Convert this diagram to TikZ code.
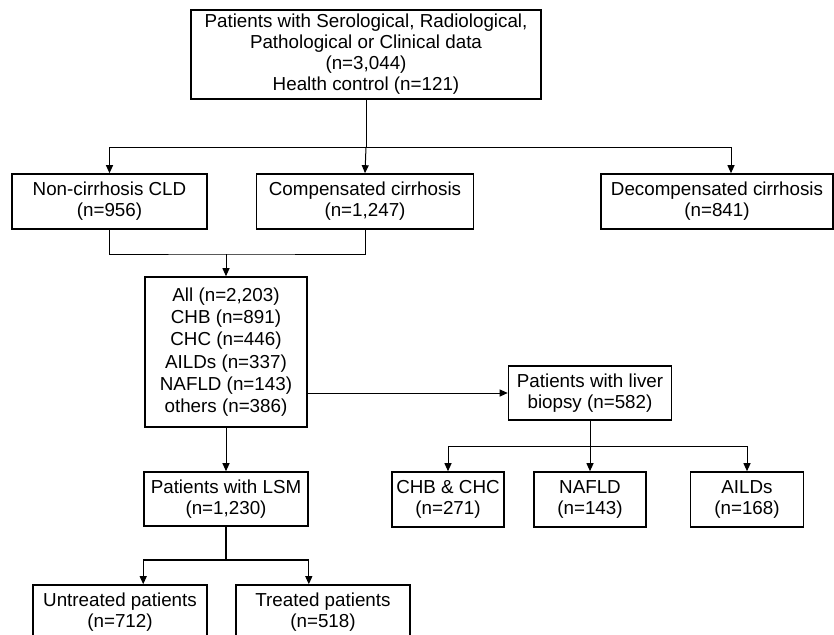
\documentclass[tikz,border=0pt]{standalone}
\usepackage{fontspec}
\setmainfont{Liberation Sans}
\usetikzlibrary{arrows.meta}

\begin{document}
\begin{tikzpicture}[x=1pt,y=-1pt,
    box/.style={draw, line width=1.6pt, align=center, inner sep=0pt,
      font=\fontsize{18.8}{21}\selectfont},
    link/.style={line width=1pt},
    arr/.style={link, -{Triangle[length=8pt,width=7pt]}}]
    % Frame of the page
    \useasboundingbox (0,0) rectangle (834,634);

    \node[box, minimum width=350, minimum height=89] (src) at (366,54.5) {\raisebox{-3pt}{\begin{tabular}{@{}c@{}}Patients with Serological, Radiological,\\Pathological or Clinical data\\(n=3,044)\\Health control (n=121)\end{tabular}}};
    \node[box, minimum width=195, minimum height=55] (ncld) at (109.5,201.5) {Non-cirrhosis CLD\\(n=956)};
    \node[box, minimum width=217, minimum height=55] (comp) at (365,201.5) {Compensated cirrhosis\\(n=1,247)};
    \node[box, minimum width=232, minimum height=55] (decomp) at (717,201.5) {Decompensated cirrhosis\\(n=841)};
    \node[box, minimum width=162, minimum height=150, font=\fontsize{18.8}{22.3}\selectfont] (all) at (226,352) {All (n=2,203)\\CHB (n=891)\\CHC (n=446)\\AILDs (n=337)\\NAFLD (n=143)\\others (n=386)};
    \node[box, minimum width=163, minimum height=54] (biopsy) at (590,393) {Patients with liver\\biopsy (n=582)};
    \node[box, minimum width=112, minimum height=55] (chb) at (448,499.5) {CHB \& CHC\\(n=271)};
    \node[box, minimum width=112, minimum height=55] (nafld) at (590,499.5) {NAFLD\\(n=143)};
    \node[box, minimum width=113, minimum height=55] (ailds) at (747,499.5) {AILDs\\(n=168)};
    \node[box, minimum width=164, minimum height=54] (lsm) at (226,499) {Patients with LSM\\(n=1,230)};
    \node[box, minimum width=174, minimum height=55] (untr) at (120,612.5) {Untreated patients\\(n=712)};
    \node[box, minimum width=174, minimum height=55] (treat) at (323,612.5) {Treated patients\\(n=518)};

    \coordinate (split1) at (366,147);
    \coordinate (dc) at (731,147);
    \coordinate (merge) at (226,254);
    \coordinate (split2) at (590,446);
    \coordinate (split3) at (226,560);

    \draw[link] (src.south) -- (split1);
    \draw[arr] (split1) -| (ncld.north);
    \draw[arr] (split1) -- (comp.north);
    \draw[arr] (split1) -- (dc) -- (decomp.north -| dc);
    \draw[link] (ncld.south) |- (merge) -| (comp.south);
    \draw[arr] (merge) -- (all.north);
    \draw[arr] (all.east |- biopsy.west) -- (biopsy.west);
    \draw[arr] (all.south) -- (lsm.north);
    \draw[link] (biopsy.south) -- (split2);
    \draw[arr] (split2) -| (chb.north);
    \draw[arr] (split2) -- (nafld.north);
    \draw[arr] (split2) -| (ailds.north);
    \draw[link, line width=1.6pt] (lsm.south) -- (split3);
    \draw[link, line width=1.6pt] (lsm.west |- split3) -- (lsm.east |- split3);
    \draw[arr] (lsm.west |- split3) -- (lsm.west |- untr.north);
    \draw[arr] (lsm.east |- split3) -- (lsm.east |- treat.north);
\end{tikzpicture}
\end{document}
